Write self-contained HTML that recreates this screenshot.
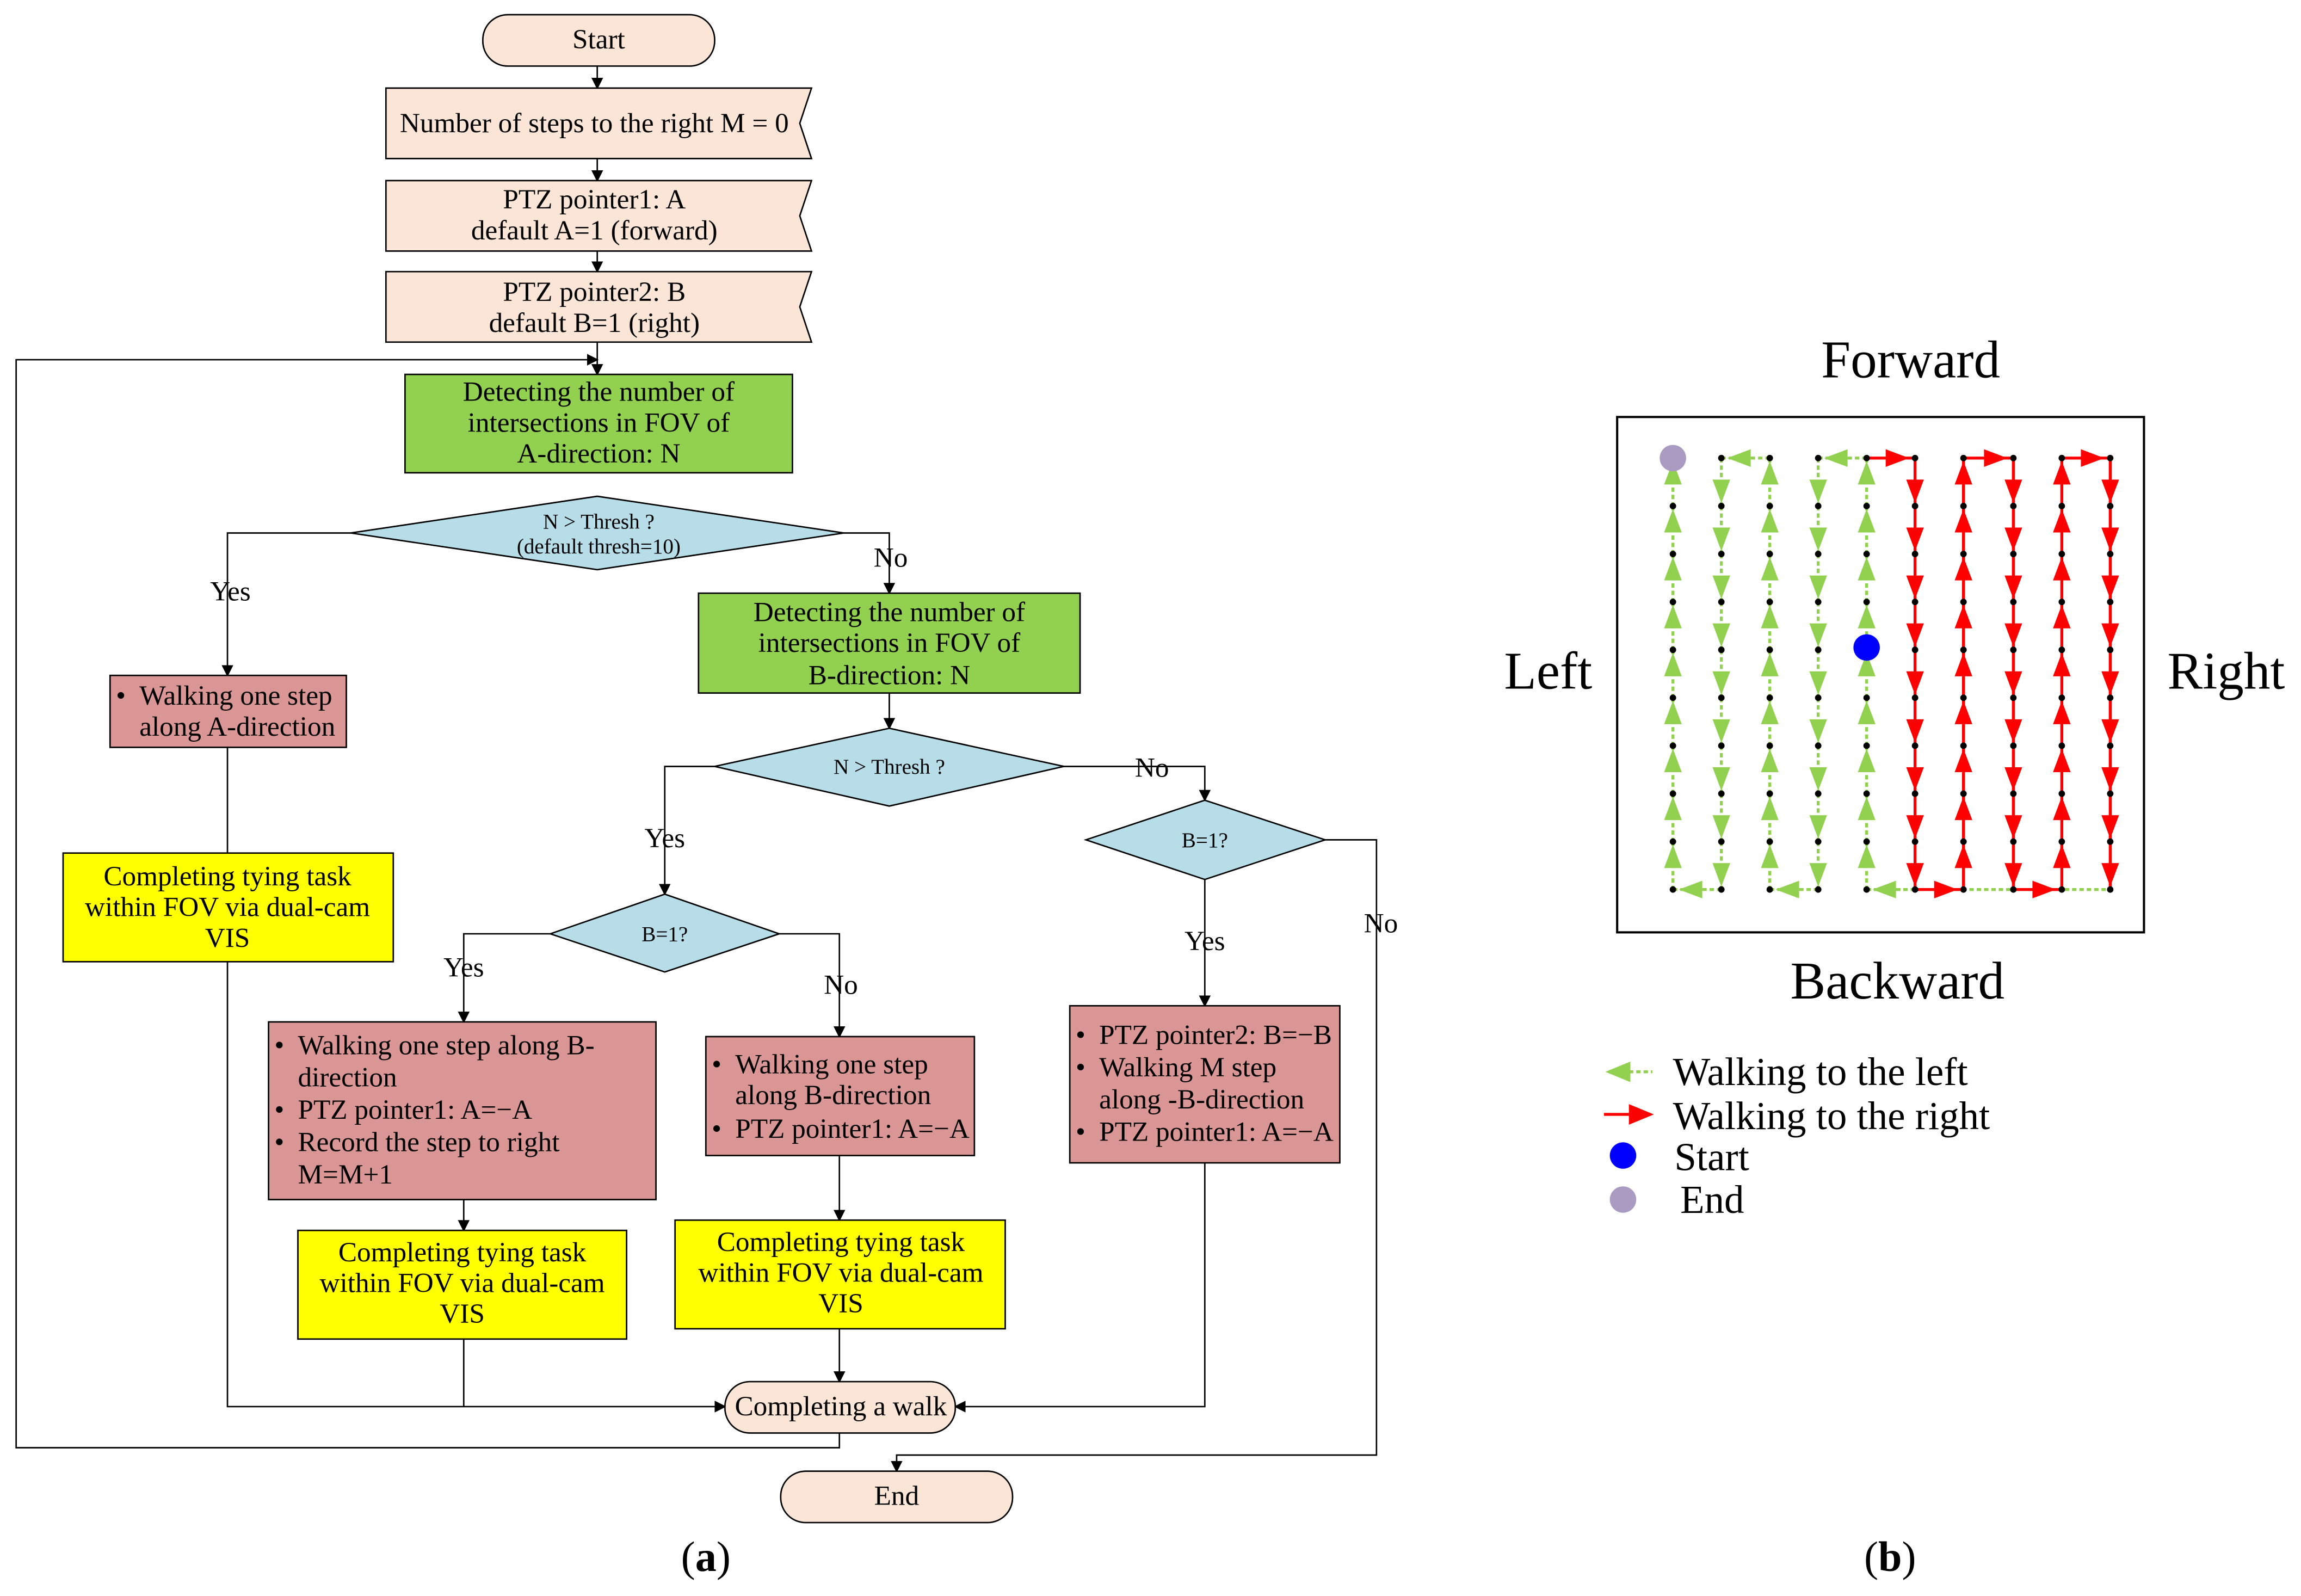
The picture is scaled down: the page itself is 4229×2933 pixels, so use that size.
<!DOCTYPE html>
<html><head><meta charset="utf-8"><style>
html,body{margin:0;padding:0;background:#fff;}
svg{display:block;}
text{font-family:"Liberation Serif",serif;fill:#000;}
</style></head><body>
<svg id="s" width="4229" height="2933" viewBox="0 0 1568 1087" preserveAspectRatio="none" xmlns="http://www.w3.org/2000/svg">
<defs>
<marker id="a" markerWidth="8" markerHeight="8" refX="7" refY="4" orient="auto" markerUnits="userSpaceOnUse"><path d="M0,0 L8,4 L0,8 z" fill="#000"/></marker>
</defs>
<g stroke="#000" stroke-width="1" fill="none">
<path d="M407,45 V60" marker-end="url(#a)"/>
<path d="M407,108 V123" marker-end="url(#a)"/>
<path d="M407,171 V185" marker-end="url(#a)"/>
<path d="M407,233 V255" marker-end="url(#a)"/>
<path d="M239,363 H155 V460" marker-end="url(#a)"/>
<path d="M575,363 H606 V404" marker-end="url(#a)"/>
<path d="M155,509 V958 H494" marker-end="url(#a)"/>
<path d="M606,472 V496" marker-end="url(#a)"/>
<path d="M487,522 H453 V609" marker-end="url(#a)"/>
<path d="M725,522 H821 V545" marker-end="url(#a)"/>
<path d="M375,636 H316 V696" marker-end="url(#a)"/>
<path d="M531,636 H572 V706" marker-end="url(#a)"/>
<path d="M821,599 V685" marker-end="url(#a)"/>
<path d="M903,572 H938 V991 H611 V1002" marker-end="url(#a)"/>
<path d="M316,817 V838" marker-end="url(#a)"/>
<path d="M572,787 V831" marker-end="url(#a)"/>
<path d="M316,912 V958"/>
<path d="M572,905 V941" marker-end="url(#a)"/>
<path d="M821,792 V958 H651" marker-end="url(#a)"/>
<path d="M572,976 V986 H11 V245 H407" marker-end="url(#a)"/>
</g>
<g stroke="#000" stroke-width="1">
<rect x="329" y="10" width="158" height="35" rx="17" fill="#fbe5d6"/>
<path d="M263,60 H553 L545,84 L553,108 H263 Z" fill="#fbe5d6"/>
<path d="M263,123 H553 L545,147 L553,171 H263 Z" fill="#fbe5d6"/>
<path d="M263,185 H553 L545,209 L553,233 H263 Z" fill="#fbe5d6"/>
<rect x="276" y="255" width="264" height="67" fill="#92d050"/>
<path d="M239,363 L407,338 L575,363 L407,388 Z" fill="#b7dee8"/>
<rect x="75" y="460" width="161" height="49" fill="#d99694"/>
<rect x="43" y="581" width="225" height="74" fill="#ffff00"/>
<rect x="476" y="404" width="260" height="68" fill="#92d050"/>
<path d="M487,522 L606,496 L725,522 L606,549 Z" fill="#b7dee8"/>
<path d="M375,636 L453,609 L531,636 L453,662 Z" fill="#b7dee8"/>
<path d="M740,572 L821,545 L903,572 L821,599 Z" fill="#b7dee8"/>
<rect x="183" y="696" width="264" height="121" fill="#d99694"/>
<rect x="481" y="706" width="183" height="81" fill="#d99694"/>
<rect x="729" y="685" width="184" height="107" fill="#d99694"/>
<rect x="203" y="838" width="224" height="74" fill="#ffff00"/>
<rect x="460" y="831" width="225" height="74" fill="#ffff00"/>
<rect x="494" y="941" width="157" height="35" rx="17" fill="#fbe5d6"/>
<rect x="532" y="1002" width="158" height="35" rx="17" fill="#fbe5d6"/>
</g>
<g font-size="19" text-anchor="middle">
<text x="408" y="33">Start</text>
<text x="405" y="90">Number of steps to the right M = 0</text>
<text x="405" y="142">PTZ pointer1: A</text>
<text x="405" y="163">default A=1 (forward)</text>
<text x="405" y="205">PTZ pointer2: B</text>
<text x="405" y="226">default B=1 (right)</text>
<text x="408" y="273">Detecting the number of</text>
<text x="408" y="294">intersections in FOV of</text>
<text x="408" y="315">A-direction: N</text>
<text x="408" y="360" font-size="14.5">N &gt; Thresh ?</text>
<text x="408" y="377" font-size="14.5">(default thresh=10)</text>
<text x="157" y="409">Yes</text>
<text x="607" y="386">No</text>
<text x="606" y="423">Detecting the number of</text>
<text x="606" y="444">intersections in FOV of</text>
<text x="606" y="466">B-direction: N</text>
<text x="606" y="527" font-size="14.5">N &gt; Thresh ?</text>
<text x="453" y="577">Yes</text>
<text x="785" y="529">No</text>
<text x="453" y="641" font-size="14.5">B=1?</text>
<text x="821" y="577" font-size="14.5">B=1?</text>
<text x="316" y="665">Yes</text>
<text x="573" y="677">No</text>
<text x="821" y="647">Yes</text>
<text x="941" y="635">No</text>
<text x="155" y="603">Completing tying task</text>
<text x="155" y="624">within FOV via dual-cam</text>
<text x="155" y="645">VIS</text>
<text x="315" y="859">Completing tying task</text>
<text x="315" y="880">within FOV via dual-cam</text>
<text x="315" y="901">VIS</text>
<text x="573" y="852">Completing tying task</text>
<text x="573" y="873">within FOV via dual-cam</text>
<text x="573" y="894">VIS</text>
<text x="573" y="964">Completing a walk</text>
<text x="611" y="1025">End</text>
</g>
<g font-size="19">
<text x="79" y="480">•</text><text x="95" y="480">Walking one step</text>
<text x="95" y="501">along A-direction</text>
<text x="187" y="718">•</text><text x="203" y="718">Walking one step along B-</text>
<text x="203" y="740">direction</text>
<text x="187" y="762">•</text><text x="203" y="762">PTZ pointer1: A=−A</text>
<text x="187" y="784">•</text><text x="203" y="784">Record the step to right</text>
<text x="203" y="806">M=M+1</text>
<text x="485" y="731">•</text><text x="501" y="731">Walking one step</text>
<text x="501" y="752">along B-direction</text>
<text x="485" y="775">•</text><text x="501" y="775">PTZ pointer1: A=−A</text>
<text x="733" y="711">•</text><text x="749" y="711">PTZ pointer2: B=−B</text>
<text x="733" y="733">•</text><text x="749" y="733">Walking M step</text>
<text x="749" y="755">along -B-direction</text>
<text x="733" y="777">•</text><text x="749" y="777">PTZ pointer1: A=−A</text>
</g>
<g font-size="29" text-anchor="middle">
<text x="481" y="1070">(<tspan font-weight="bold">a</tspan>)</text>
<text x="1288" y="1070">(<tspan font-weight="bold">b</tspan>)</text>
</g>
<g font-size="36" text-anchor="middle">
<text x="1302" y="257">Forward</text>
<text x="1055" y="469">Left</text>
<text x="1517" y="469">Right</text>
<text x="1293" y="680">Backward</text>
</g>
<rect x="1102" y="284" width="359" height="351" fill="none" stroke="#000" stroke-width="1.5"/>
<g id="grid"></g>
<line x1="1100" y1="730" x2="1126" y2="730" stroke="#92d050" stroke-width="2" stroke-dasharray="3,2"/>
<path d="M1094,730 L1111,723 L1111,737 Z" fill="#92d050"/>
<line x1="1093" y1="759" x2="1118" y2="759" stroke="#ff0000" stroke-width="2"/>
<path d="M1127,759 L1110,752 L1110,766 Z" fill="#ff0000"/>
<circle cx="1106" cy="787" r="9" fill="#0000ff"/>
<circle cx="1106" cy="817" r="9" fill="#a99bc1"/>
<g font-size="27">
<text x="1140" y="739">Walking to the left</text>
<text x="1140" y="769">Walking to the right</text>
<text x="1141" y="797">Start</text>
<text x="1145" y="826">End</text>
</g>
</svg>
<script>
(function(){
var X=[1140,1173,1206,1239,1272,1305,1338,1372,1405,1438];
var Y=[];for(var i=0;i<10;i++)Y.push(312+i*32.65);
var G="#92d050",R="#ff0000",s="";
function line(x1,y1,x2,y2,c){s+='<line x1="'+x1+'" y1="'+y1+'" x2="'+x2+'" y2="'+y2+'" stroke="'+c+'" stroke-width="2"'+(c==G?' stroke-dasharray="3,2"':'')+'/>';}
function arr(tx,ty,dx,dy,c){var L=16,W=6;var bx=tx-dx*L,by=ty-dy*L;var px=-dy*W,py=dx*W;
s+='<path d="M'+tx+','+ty+' L'+(bx+px)+','+(by+py)+' L'+(bx-px)+','+(by-py)+' Z" fill="'+c+'"/>';}
line(X[4],Y[9],X[9],Y[9],G);
for(var c=0;c<10;c++){var col=c<5?G:R;var up=(c%2==0);
 for(var i=0;i<9;i++){line(X[c],Y[i],X[c],Y[i+1],col);
  if(up)arr(X[c],Y[i]+2,0,-1,col);else arr(X[c],Y[i+1]-2,0,1,col);}}
var top=[[2,1,G],[4,3,G],[4,5,R],[6,7,R],[8,9,R]];
top.forEach(function(t){line(X[t[0]],Y[0],X[t[1]],Y[0],t[2]);var d=t[1]>t[0]?1:-1;arr(X[t[1]]-d*4,Y[0],d,0,t[2]);});
var bot=[[1,0,G],[3,2,G],[5,4,G],[5,6,R],[7,8,R]];
bot.forEach(function(t){line(X[t[0]],Y[9],X[t[1]],Y[9],t[2]);var d=t[1]>t[0]?1:-1;arr(X[t[1]]-d*4,Y[9],d,0,t[2]);});
for(var c=0;c<10;c++)for(var i=0;i<10;i++)s+='<circle cx="'+X[c]+'" cy="'+Y[i]+'" r="2.2" fill="#000"/>';
s+='<circle cx="'+X[0]+'" cy="'+Y[0]+'" r="9" fill="#a99bc1"/>';
s+='<circle cx="'+X[4]+'" cy="441" r="9" fill="#0000ff"/>';
document.getElementById('grid').innerHTML=s;
})();
</script>
</body></html>
